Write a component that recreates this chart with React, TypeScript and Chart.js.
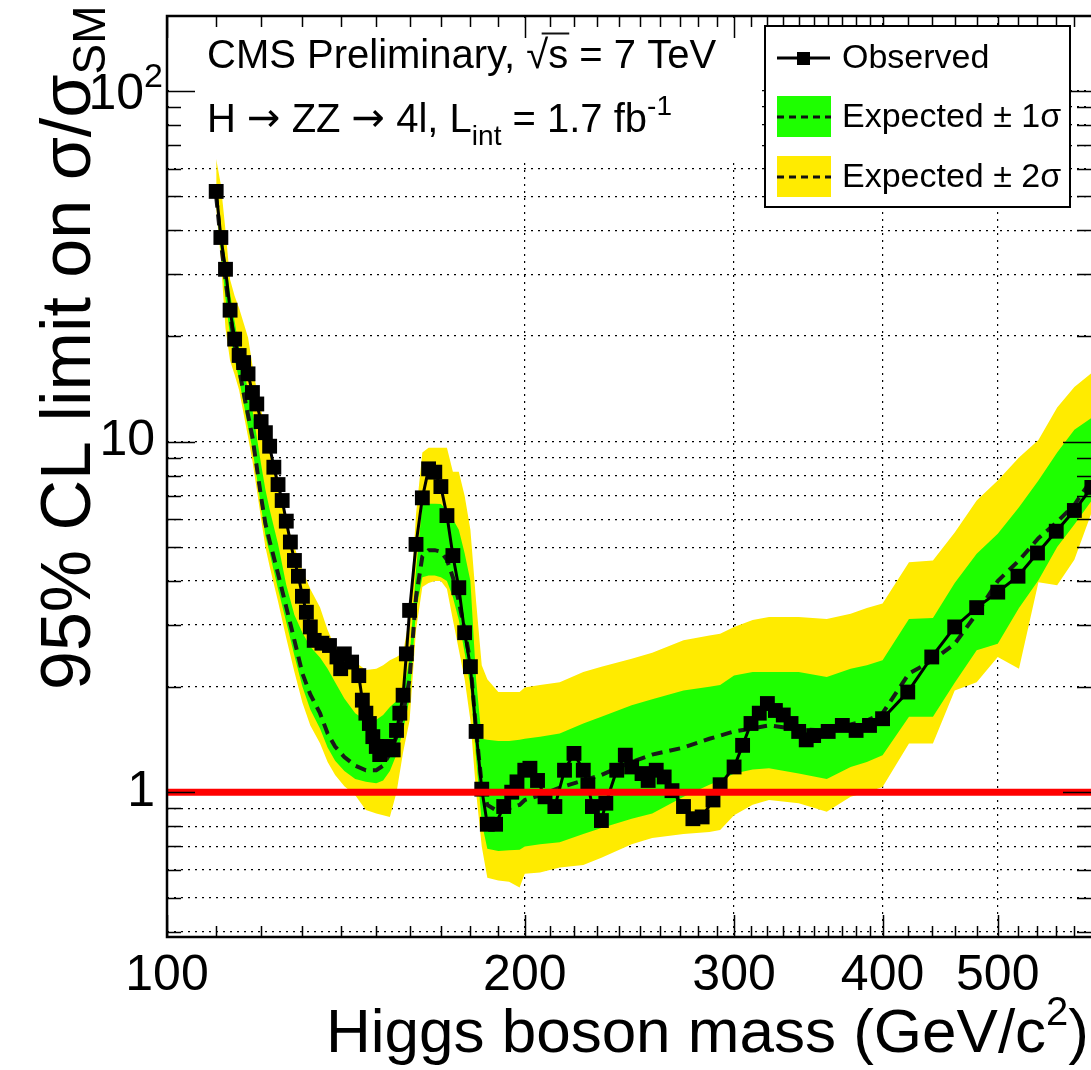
import React, { useEffect, useRef } from 'react';
import { Chart, registerables } from 'chart.js';

Chart.register(...registerables);

const FONT = "'Liberation Sans', Arial, Helvetica, sans-serif";
const ARROW_FONT = "'DejaVu Sans', 'Liberation Sans', sans-serif";

// ---------- data ----------
const OBS_MASS = [110, 111, 112, 113, 114, 115, 116, 117, 118, 119, 120, 121, 122, 123, 124, 125, 126, 127, 128, 129, 130, 131, 132, 133, 135, 137, 139, 140, 141, 143, 145, 146, 147, 148, 149, 150, 151, 153, 155, 156, 157, 158, 159, 160, 162, 164, 166, 168, 170, 172, 174, 176, 178, 180, 182, 184, 186, 189, 192, 195, 197, 200, 202, 205, 208, 212, 216, 220, 224, 226, 228, 232, 234, 239, 243, 246, 251, 254, 258, 262, 266, 272, 277, 282, 288, 292, 300, 305, 310, 315, 320, 325, 330, 335, 340, 345, 350, 360, 370, 380, 390, 400, 420, 440, 460, 480, 500, 520, 540, 560, 580, 600];
const OBS_LIMIT = [51.7, 38.2, 31.0, 23.7, 19.6, 17.6, 16.8, 15.6, 13.8, 12.8, 11.4, 10.6, 9.7, 8.45, 7.54, 6.79, 5.93, 5.17, 4.58, 4.13, 3.62, 3.26, 2.96, 2.71, 2.66, 2.62, 2.43, 2.25, 2.48, 2.35, 2.15, 1.83, 1.68, 1.57, 1.44, 1.35, 1.28, 1.35, 1.32, 1.5, 1.68, 1.89, 2.48, 3.3, 5.09, 6.91, 8.36, 8.18, 7.44, 6.15, 4.73, 3.83, 2.85, 2.28, 1.49, 1.02, 0.81, 0.81, 0.91, 1.0, 1.07, 1.155, 1.17, 1.08, 0.97, 0.91, 1.155, 1.29, 1.155, 1.05, 0.91, 0.83, 0.93, 1.155, 1.275, 1.18, 1.13, 1.08, 1.155, 1.105, 1.01, 0.91, 0.84, 0.85, 0.95, 1.05, 1.18, 1.36, 1.57, 1.68, 1.79, 1.71, 1.66, 1.57, 1.49, 1.41, 1.45, 1.49, 1.55, 1.5, 1.55, 1.62, 1.93, 2.43, 2.96, 3.36, 3.72, 4.13, 4.81, 5.55, 6.36, 7.4];

const BAND_MASS = [110, 111, 112, 113, 114, 115, 117, 118, 119, 120, 121, 122, 124, 126, 128, 130, 132, 134.5, 136.5, 138.5, 141, 144, 147, 150, 152, 154, 156, 158, 160, 162, 164, 166, 168, 170, 172, 174, 176, 178, 180, 182, 184, 186, 190, 194, 198, 200, 206, 214, 224, 232, 246, 256, 272, 286, 292, 300, 311, 321, 340, 359, 376, 388, 400, 421, 441, 460, 480, 500, 521, 541, 561, 580, 600];
const EXP_MEDIAN = [50, 37, 29, 23, 19, 16, 11.9, 10.3, 8.45, 6.94, 5.83, 5.2, 4.2, 3.37, 2.71, 2.18, 1.9, 1.68, 1.47, 1.35, 1.26, 1.19, 1.155, 1.155, 1.19, 1.29, 1.44, 1.68, 2.1, 3.6, 4.7, 4.9, 4.9, 4.85, 4.6, 4.1, 3.5, 2.9, 2.35, 1.5, 1.05, 0.92, 0.88, 0.9, 0.92, 0.95, 0.98, 1.03, 1.08, 1.12, 1.22, 1.28, 1.34, 1.42, 1.45, 1.49, 1.52, 1.55, 1.51, 1.5, 1.56, 1.6, 1.68, 2.18, 2.38, 2.65, 3.23, 4.0, 4.58, 5.3, 5.9, 6.6, 7.8];
const EXP_LO2 = [46, 33, 21, 17, 15.5, 14, 10.3, 8.8, 7.3, 6.0, 5.0, 4.4, 3.5, 2.75, 2.2, 1.8, 1.55, 1.38, 1.22, 1.12, 1.04, 0.98, 0.89, 0.87, 0.86, 0.85, 1.0, 1.3, 1.6, 2.9, 3.85, 3.95, 4.0, 4.0, 3.8, 3.1, 2.55, 2.1, 1.6, 1.0, 0.7, 0.57, 0.56, 0.555, 0.535, 0.585, 0.59, 0.61, 0.62, 0.65, 0.71, 0.74, 0.76, 0.77, 0.78, 0.86, 0.92, 0.95, 0.93, 0.88, 0.97, 1.0, 1.035, 1.376, 1.376, 1.95, 2.06, 2.43, 2.25, 3.97, 3.89, 4.6, 6.3];
const EXP_LO1 = [48, 35, 25.5, 20, 17.2, 15, 11, 9.5, 7.9, 6.5, 5.4, 4.8, 3.8, 3.05, 2.45, 2.0, 1.72, 1.52, 1.34, 1.23, 1.15, 1.09, 1.07, 1.06, 1.08, 1.15, 1.28, 1.5, 1.85, 3.3, 4.1, 4.15, 4.15, 4.1, 4.0, 3.6, 3.1, 2.5, 2.0, 1.25, 0.82, 0.69, 0.68, 0.683, 0.685, 0.7, 0.71, 0.72, 0.76, 0.79, 0.84, 0.87, 0.97, 1.05, 1.08, 1.13, 1.16, 1.17, 1.13, 1.09, 1.18, 1.22, 1.275, 1.64, 1.64, 2.05, 2.54, 2.65, 3.35, 4.02, 5.0, 5.8, 6.8];
const EXP_HI1 = [53, 41, 33, 26.5, 22, 18.5, 14, 12.3, 10.3, 8.6, 7.3, 6.4, 5.1, 3.9, 3.2, 2.85, 2.6, 2.42, 2.25, 2.06, 1.85, 1.68, 1.6, 1.61, 1.66, 1.75, 1.82, 1.9, 2.4, 4.3, 6.6, 6.65, 6.65, 6.64, 6.36, 6.0, 5.6, 4.8, 4.0, 2.1, 1.42, 1.41, 1.4, 1.4, 1.41, 1.42, 1.44, 1.47, 1.57, 1.64, 1.77, 1.84, 1.95, 2.0, 2.02, 2.15, 2.2, 2.2, 2.2, 2.13, 2.25, 2.3, 2.38, 3.12, 3.14, 3.95, 4.79, 5.46, 6.5, 7.74, 9.3, 10.8, 11.7];
const EXP_HI2 = [64, 54, 40, 29, 26, 24, 19.8, 16.5, 14, 12.3, 11, 9.8, 7.9, 5.9, 5.0, 4.3, 3.8, 3.37, 2.9, 2.6, 2.52, 2.35, 2.23, 2.25, 2.3, 2.38, 2.43, 2.5, 3.2, 6.2, 9.3, 9.6, 9.6, 9.6, 9.6, 8.2, 8.2, 7.0, 5.6, 3.5, 2.3, 2.1, 1.93, 1.93, 1.93, 1.99, 2.02, 2.06, 2.2, 2.28, 2.4, 2.5, 2.71, 2.8, 2.83, 2.96, 3.1, 3.16, 3.16, 3.12, 3.23, 3.35, 3.45, 4.53, 4.58, 5.5, 6.79, 7.74, 9.0, 10.1, 12.5, 14.3, 15.7];

const SM_LEVEL = 1;
const SM_RANGE = [100, 600];

const X_MIN = 100;
const X_MAX = 599;
const Y_MIN = 0.3863;
const Y_MAX = 163.6;

const X_TICKS = [100, 110, 120, 130, 140, 150, 160, 170, 180, 190, 200, 210, 220, 230, 240, 250, 260, 270, 280, 290, 300, 310, 320, 330, 340, 350, 360, 370, 380, 390, 400, 420, 440, 460, 480, 500, 520, 540, 560, 580];
const X_LABELS = [100, 200, 300, 400, 500];
const X_GRID = [200, 300, 400, 500];
const Y_TICKS = [0.4, 0.5, 0.6, 0.7, 0.8, 0.9, 1, 2, 3, 4, 5, 6, 7, 8, 9, 10, 20, 30, 40, 50, 60, 70, 80, 90, 100];
const Y_MAJOR = [1, 10, 100];
const Y_LABELS: Record<string, string> = { '1': '1', '10': '10' };
const Y_POWER_LABEL = 100; // drawn as 10 with superscript 2

const GREEN = '#1eff00';
const YELLOW = '#ffeb00';

type Run = { t: string; size: number; dy?: number; f?: string };

function drawRuns(ctx: CanvasRenderingContext2D, x: number, y: number, runs: Run[]) {
  let cx = x;
  const pos: Array<[number, number]> = [];
  for (const r of runs) {
    ctx.font = `${r.size}px ${r.f || FONT}`;
    ctx.fillText(r.t, cx, y + (r.dy || 0));
    const w = ctx.measureText(r.t).width;
    pos.push([cx, w]);
    cx += w;
  }
  return pos;
}

function runsWidth(ctx: CanvasRenderingContext2D, runs: Run[]) {
  let w = 0;
  for (const r of runs) {
    ctx.font = `${r.size}px ${r.f || FONT}`;
    w += ctx.measureText(r.t).width;
  }
  return w;
}

const decorPlugin = {
  id: 'decor',
  beforeDatasetsDraw(chart: any) {
    const { ctx, chartArea: a } = chart;
    ctx.save();
    ctx.fillStyle = '#ffffff';
    ctx.fillRect(a.left + 2, a.top + 2, 755 - a.left, 157 - a.top);
    ctx.restore();
  },
  afterDatasetsDraw(chart: any) {
    const { ctx, chartArea: a, scales } = chart;
    const xs = scales.x;
    const ys = scales.y;
    ctx.save();
    ctx.strokeStyle = '#000';
    ctx.lineWidth = 1.5;
    ctx.setLineDash([]);
    ctx.beginPath();
    for (const v of X_TICKS) {
      const p = Math.round(xs.getPixelForValue(v)) + 0.5;
      if (p < a.left - 1 || p > a.right + 1) continue;
      const len = X_LABELS.includes(v) ? 22 : 11;
      ctx.moveTo(p, a.bottom);
      ctx.lineTo(p, a.bottom - len);
      ctx.moveTo(p, a.top);
      ctx.lineTo(p, a.top + len);
    }
    for (const v of Y_TICKS) {
      const p = Math.round(ys.getPixelForValue(v)) + 0.5;
      const len = Y_MAJOR.includes(v) ? 28 : 14;
      ctx.moveTo(a.left, p);
      ctx.lineTo(a.left + len, p);
      ctx.moveTo(a.right, p);
      ctx.lineTo(a.right - len, p);
    }
    ctx.stroke();

    ctx.lineWidth = 2.5;
    ctx.beginPath();
    ctx.moveTo(a.right + 3, a.top);
    ctx.lineTo(a.left, a.top);
    ctx.lineTo(a.left, a.bottom);
    ctx.lineTo(a.right + 3, a.bottom);
    ctx.stroke();
    ctx.restore();
  },
  afterDraw(chart: any) {
    const { ctx, scales } = chart;
    ctx.save();
    ctx.fillStyle = '#000';
    ctx.strokeStyle = '#000';
    ctx.textBaseline = 'alphabetic';
    ctx.textAlign = 'left';

    // ---- y label 10^2 (power notation) ----
    const p100 = scales.y.getPixelForValue(Y_POWER_LABEL);
    ctx.font = `50px ${FONT}`;
    const w10 = ctx.measureText('10').width;
    ctx.fillText('10', 144 - w10, p100 + 18);
    ctx.font = `34px ${FONT}`;
    ctx.fillText('2', 144, p100 - 4);

    // ---- legend ----
    const lx = 765, ly = 26, lw = 305, lh = 181;
    ctx.fillStyle = '#fff';
    ctx.fillRect(lx, ly, lw, lh);
    ctx.lineWidth = 2;
    ctx.strokeStyle = '#000';
    ctx.strokeRect(lx, ly, lw, lh);
    ctx.lineWidth = 3;
    ctx.beginPath();
    ctx.moveTo(777, 58);
    ctx.lineTo(830, 58);
    ctx.stroke();
    ctx.fillStyle = '#000';
    ctx.fillRect(797, 52, 13, 13);
    ctx.fillStyle = GREEN;
    ctx.fillRect(777, 96, 54, 41);
    ctx.fillStyle = YELLOW;
    ctx.fillRect(777, 156, 54, 41);
    ctx.strokeStyle = '#111';
    ctx.lineWidth = 3;
    ctx.setLineDash([7, 5]);
    ctx.beginPath();
    ctx.moveTo(777, 117);
    ctx.lineTo(831, 117);
    ctx.moveTo(777, 177);
    ctx.lineTo(831, 177);
    ctx.stroke();
    ctx.setLineDash([]);
    ctx.fillStyle = '#000';
    ctx.font = `34px ${FONT}`;
    ctx.textBaseline = 'middle';
    ctx.fillText('Observed', 842, 59);
    ctx.fillText('Expected ± 1σ', 842, 118);
    ctx.fillText('Expected ± 2σ', 842, 178);
    ctx.textBaseline = 'alphabetic';

    // ---- header text ----
    const p1 = drawRuns(ctx, 207, 68, [
      { t: 'CMS Preliminary, ', size: 40 },
      { t: '√', size: 40 },
      { t: 's', size: 40 },
      { t: ' = 7 TeV', size: 40 },
    ]);
    ctx.lineWidth = 2;
    ctx.beginPath();
    ctx.moveTo(p1[1][0] + p1[1][1] * 0.7, 33.5);
    ctx.lineTo(p1[2][0] + p1[2][1] + 1, 33.5);
    ctx.stroke();

    drawRuns(ctx, 207, 132, [
      { t: 'H ', size: 40 },
      { t: '→', size: 40, f: ARROW_FONT, dy: -1 },
      { t: ' ZZ ', size: 40 },
      { t: '→', size: 40, f: ARROW_FONT, dy: -1 },
      { t: ' 4l, L', size: 40 },
      { t: 'int', size: 28, dy: 13 },
      { t: ' = 1.7 fb', size: 40 },
      { t: '-1', size: 28, dy: -17 },
    ]);

    // ---- x title ----
    const xr: Run[] = [
      { t: 'Higgs boson mass (GeV/c', size: 62 },
      { t: '2', size: 40, dy: -27 },
      { t: ')', size: 62 },
    ];
    const xw = runsWidth(ctx, xr);
    drawRuns(ctx, 1089 - xw, 1052, xr);

    // ---- y title ----
    ctx.save();
    ctx.translate(90, 690);
    ctx.rotate(-Math.PI / 2);
    drawRuns(ctx, 0, 0, [
      { t: '95% CL limit on σ/σ', size: 70 },
      { t: 'SM', size: 46, dy: 15 },
    ]);
    ctx.restore();

    ctx.restore();
  },
};

function pts(mass: number[], vals: number[]) {
  return mass.map((m, i) => ({ x: m, y: vals[i] }));
}

export default function App() {
  const ref = useRef<HTMLCanvasElement | null>(null);

  useEffect(() => {
    document.body.style.margin = '0';
    document.body.style.overflow = 'hidden';
    const canvas = ref.current;
    if (!canvas) return;
    const none = 'rgba(0,0,0,0)';
    const chart = new Chart(canvas, {
      type: 'line',
      data: {
        datasets: [
          {
            label: 'SM',
            data: SM_RANGE.map((m) => ({ x: m, y: SM_LEVEL })),
            borderColor: '#ff0000',
            borderWidth: 7,
            pointRadius: 0,
            fill: false,
            order: -1,
          },
          {
            label: 'Observed',
            data: pts(OBS_MASS, OBS_LIMIT),
            borderColor: '#000',
            borderWidth: 3,
            pointStyle: 'rect',
            pointRadius: 10.5,
            pointBackgroundColor: '#000',
            pointBorderColor: '#000',
            pointBorderWidth: 0,
            fill: false,
            order: 0,
          },
          {
            label: 'Expected',
            data: pts(BAND_MASS, EXP_MEDIAN),
            borderColor: '#1a1a1a',
            borderWidth: 4,
            borderDash: [11, 7],
            pointRadius: 0,
            fill: false,
            order: 1,
          },
          {
            label: 'Expected +1σ',
            data: pts(BAND_MASS, EXP_HI1),
            borderColor: none,
            backgroundColor: GREEN,
            pointRadius: 0,
            fill: 4,
            order: 3,
          },
          {
            label: 'Expected -1σ',
            data: pts(BAND_MASS, EXP_LO1),
            borderColor: none,
            pointRadius: 0,
            fill: false,
            order: 3,
          },
          {
            label: 'Expected +2σ',
            data: pts(BAND_MASS, EXP_HI2),
            borderColor: none,
            backgroundColor: YELLOW,
            pointRadius: 0,
            fill: 6,
            order: 4,
          },
          {
            label: 'Expected -2σ',
            data: pts(BAND_MASS, EXP_LO2),
            borderColor: none,
            pointRadius: 0,
            fill: false,
            order: 4,
          },
        ],
      },
      options: {
        responsive: false,
        animation: false,
        events: [],
        layout: { autoPadding: false, padding: { top: 16, right: 0, bottom: 0, left: 0 } },
        elements: { line: { tension: 0 } },
        plugins: {
          legend: { display: false },
          tooltip: { enabled: false },
        },
        scales: {
          x: {
            type: 'logarithmic',
            min: X_MIN,
            max: X_MAX,
            afterBuildTicks: (s: any) => {
              s.ticks = X_TICKS.map((v) => ({ value: v }));
            },
            afterFit: (s: any) => {
              s.height = 133;
              s.paddingLeft = 0;
              s.paddingRight = 0;
              s.paddingTop = 0;
              s.paddingBottom = 0;
            },
            ticks: {
              autoSkip: false,
              maxRotation: 0,
              minRotation: 0,
              padding: 9,
              color: '#000',
              font: { family: FONT, size: 50 },
              callback: (v: any) => (X_LABELS.includes(Number(v)) ? String(v) : ''),
            },
            grid: {
              drawTicks: false,
              lineWidth: 1.2,
              color: (c: any) => (c.tick && X_GRID.includes(c.tick.value) ? '#000' : none),
            },
            border: { display: false, dash: [2, 5] },
          },
          y: {
            type: 'logarithmic',
            min: Y_MIN,
            max: Y_MAX,
            afterBuildTicks: (s: any) => {
              s.ticks = Y_TICKS.map((v) => ({ value: v }));
            },
            afterFit: (s: any) => {
              s.width = 167;
              s.paddingLeft = 0;
              s.paddingRight = 0;
              s.paddingTop = 0;
              s.paddingBottom = 0;
            },
            ticks: {
              autoSkip: false,
              padding: 12,
              color: '#000',
              font: { family: FONT, size: 50 },
              callback: (v: any) => Y_LABELS[String(v)] || '',
            },
            grid: {
              drawTicks: false,
              lineWidth: 1.2,
              color: '#000',
            },
            border: { display: false, dash: [2, 5] },
          },
        },
      } as any,
      plugins: [decorPlugin],
    });
    return () => chart.destroy();
  }, []);

  return (
    <div style={{ width: 1091, height: 1070, background: '#fff' }}>
      <canvas ref={ref} width={1091} height={1070} style={{ display: 'block' }} />
    </div>
  );
}
